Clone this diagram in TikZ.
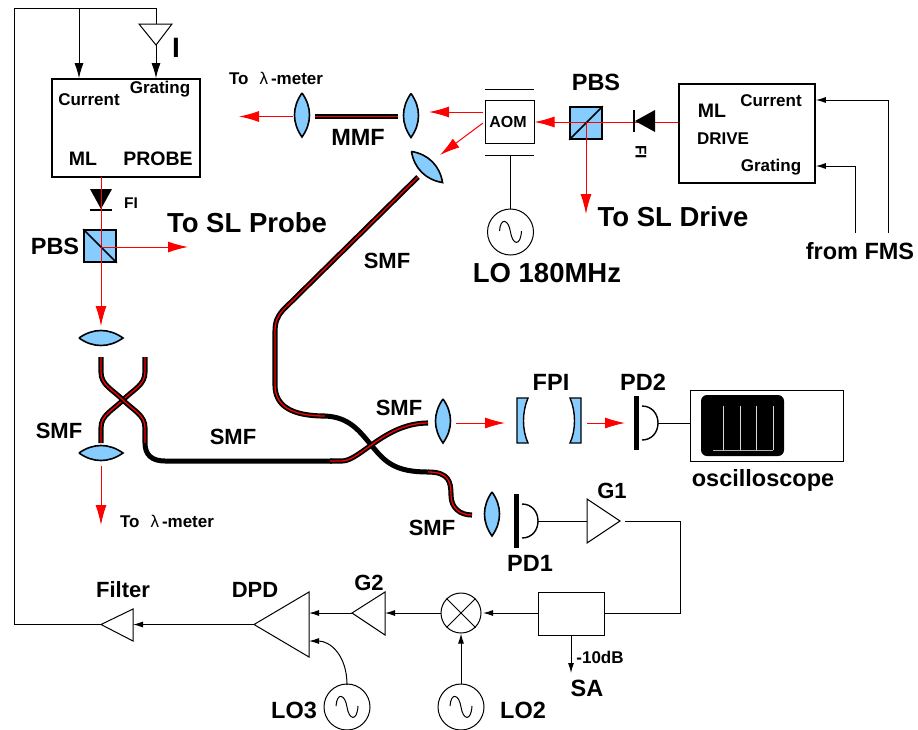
\documentclass[tikz,border=0pt]{standalone}
\usepackage{fontspec}
\setmainfont{Liberation Sans}
\usetikzlibrary{arrows.meta}
\definecolor{optblue}{RGB}{135,204,255}
\tikzset{
	lblhuge/.style={font=\bfseries\fontsize{27.5}{28}\selectfont},
	lblbig/.style={font=\bfseries\fontsize{23.5}{24}\selectfont},
	lblfibre/.style={font=\bfseries\fontsize{22}{22}\selectfont},
	lblmid/.style={font=\bfseries\fontsize{19.5}{20}\selectfont},
	lblsmall/.style={font=\bfseries\fontsize{17}{17}\selectfont},
	lbltiny/.style={font=\bfseries\fontsize{15.5}{16}\selectfont},
	box/.style={draw, line width=1.6pt, inner sep=0pt},
	thinbox/.style={draw, line width=1pt, inner sep=0pt},
	wire/.style={line width=1pt},
	wirearrow/.style={line width=1pt, -{Latex[length=15pt,width=9pt]}},
	minarrow/.style={line width=1pt, -{Latex[length=10pt,width=6pt]}},
	beam/.style={red, line width=1pt},
	beamarrow/.style={red, line width=1pt, -{Latex[length=20pt,width=11pt]}},
	fiber/.style={black, line width=1.9pt, double=red, double distance=1.3pt},
	blackfiber/.style={black, line width=5pt},
	osc/.style={circle, draw, line width=1pt, minimum size=46pt, inner sep=0pt},
	lens/.pic={\draw[fill=optblue, line width=1.6pt] (0,-22) .. controls (-10,-8) and (-10,8) .. (0,22) .. controls (10,8) and (10,-8) .. (0,-22);},
	sinewave/.pic={\draw[line width=1pt] (-11,-1) .. controls (-10,-15) and (-2,-13) .. (0,0) .. controls (2,13) and (10,15) .. (11,-1);},
	detector/.pic={
		\draw[line width=5pt] (0,-27) -- (0,27);
		\draw[line width=1.4pt] (6,-17) .. controls (16,-17) and (22,-9) .. (22,0) .. controls (22,9) and (16,17) .. (6,17);
	}
}
\begin{document}
\begin{tikzpicture}[x=1pt,y=-1pt]
	\useasboundingbox (0,0) rectangle (918,729);

	% laser boxes
	\node[box, minimum width=148pt, minimum height=98pt] (mlprobe) at (126,128) {};
	\node[box, minimum width=136pt, minimum height=99pt] (mldrive) at (747,133.5) {};
	\node[lblsmall] (curprobe) at (89,100) {Current};
	\node[lblsmall] (gratprobe) at (160,89) {Grating};
	\node[lblmid] (mlone) at (83,159) {ML};
	\node[lblmid] (probe) at (158,159) {PROBE};
	\node[lblmid] (mltwo) at (712,111) {ML};
	\node[lblsmall] (drive) at (723,139) {DRIVE};
	\node[lblsmall] (curdrive) at (771,101) {Current};
	\node[lblsmall] (gratdrive) at (771,167) {Grating};

	% feedback loop at the top
	\coordinate (filtertip) at (101,624.5);
	\coordinate (filterbase) at (133,624.5);
	\coordinate (corner) at (14,8);
	\coordinate (itop) at (156,24);
	\coordinate (itip) at (156,45);
	\draw[wire] (filtertip) -- (14,624.5) -- (corner) -- (156,8) -- (itop);
	\draw[wirearrow] (79,8) -- (mlprobe.north -| 79,8);
	\draw[wirearrow] (itip) -- (mlprobe.north -| itip);
	\draw[wire, fill=white] (139,24) -- (172,24) -- (itip) -- cycle;
	\node[font=\bfseries\fontsize{28}{28}\selectfont] (ilabel) at (176,48) {I};

	% probe arm
	\node[draw, fill=optblue, line width=1.6pt, minimum size=32pt, inner sep=0pt] (pbsone) at (100,246) {};
	\coordinate (lensone) at (101,338);
	\coordinate (lenstwo) at (101,453);
	\coordinate (pbsonec) at (101,247);
	\draw[beam] (mlprobe.south -| pbsonec) -- (pbsonec);
	\draw[line width=1.6pt] (pbsone.north west) -- (pbsone.south east);
	\draw[beamarrow] (pbsonec) -- (101,326);
	\draw[beamarrow] (pbsonec) -- (188,247);
	\fill (90,189) -- (112,189) -- (101,209) -- cycle;
	\draw[line width=1.6pt] (90,210) -- (112,210);
	\draw[beam] (101,177) -- (101,230);
	\node[lbltiny] (fione) at (131,203) {FI};
	\node[lblbig] (pbsonelbl) at (55,246) {PBS};
	\node[lblhuge] (toslprobe) at (247,223) {To SL Probe};

	\pic[rotate=90] at (lensone) {lens};
	\pic[rotate=90] at (lenstwo) {lens};
	\draw[beamarrow] (101,466) -- (101,525);
	\node[lblsmall] (lamone) at (167,521) {To\hspace{11pt}{\mdseries λ}\hspace{3pt}-meter};

	% fibres, black parts first
	\draw[blackfiber] (145,443) .. controls (145,455) and (152,461) .. (165,461) -- (332,461);
	\draw[fiber] (101,443) -- (101,428) .. controls (101,415) and (112,411) .. (123,400) .. controls (134,389) and (145,385) .. (145,372) -- (145,357);
	\draw[fiber] (101,357) -- (101,372) .. controls (101,385) and (112,389) .. (123,400) .. controls (134,411) and (145,415) .. (145,428) -- (145,443);
	\draw[fiber] (418,177) -- (283,310) .. controls (277,317) and (275,322) .. (275,332) -- (275,385) .. controls (275,405) and (290,416) .. (325,416);
	\draw[blackfiber] (325,416) .. controls (350,417) and (360,432) .. (372,446) .. controls (385,462) and (395,472) .. (428,472);
	\draw[fiber] (330,461) -- (342,461) .. controls (360,461) and (385,423) .. (428,423);
	\draw[fiber] (428,472) .. controls (449,472) and (451,482) .. (451,495) .. controls (451,508) and (460,515) .. (472,515);
	\draw[fiber, double distance=1.2pt] (315,116.5) -- (398,116.5);
	\node[lblfibre] (smfa) at (59,431) {SMF};
	\node[lblfibre] (smfb) at (233,437) {SMF};
	\node[lblfibre] (smfc) at (399,408) {SMF};
	\node[lblfibre] (smfd) at (432,528) {SMF};
	\node[lblfibre] (smfe) at (387,261) {SMF};
	\node[lblbig] (mmf) at (358,137) {MMF};

	% drive arm
	\node[thinbox, minimum width=49pt, minimum height=43pt] (aom) at (509.5,121.5) {};
	\node[font=\bfseries\fontsize{16}{16}\selectfont] (aomlbl) at (508,122) {AOM};
	\draw[line width=1pt] (485,89) -- (534,89);
	\draw[line width=1pt] (485,155) -- (534,155);
	\node[draw, fill=optblue, line width=1.6pt, minimum size=32pt, inner sep=0pt] (pbstwo) at (586,123) {};
	\coordinate (pbstwoc) at (586,122);
	\draw[beamarrow] (mldrive.west |- pbstwoc) -- (aom.east |- pbstwoc);
	\draw[line width=1.6pt] (pbstwo.south west) -- (pbstwo.north east);
	\draw[beamarrow] (pbstwoc) -- (586,214);
	\fill (655,110) -- (655,132) -- (635,121) -- cycle;
	\draw[line width=1.6pt] (634,110) -- (634,132);
	\node[lbltiny, rotate=-90] (fitwo) at (641,152) {FI};
	\node[lblbig] (pbstwolbl) at (596,82) {PBS};
	\node[lblhuge] (tosldrive) at (673,217) {To SL Drive};
	\coordinate (lensthree) at (302,115);
	\coordinate (lensfour) at (411,115.5);
	\coordinate (lensfive) at (427,167);
	\pic at (lensthree) {lens};
	\pic at (lensfour) {lens};
	\pic[rotate=45] at (lensfive) {lens};
	\draw[beamarrow] (483,112) -- (429,112);
	\draw[beamarrow] (483,123) -- (440,155);
	\draw[beamarrow] (293,116.5) -- (239,116.5);
	\node[lblsmall] (lamtwo) at (276,78) {To\hspace{11pt}{\mdseries λ}\hspace{3pt}-meter};

	\node[osc] (loaom) at (510.5,232) {};
	\pic at (loaom) {sinewave};
	\draw[wire] (510.5,155) -- (loaom);
	\node[lblhuge] (loaomlbl) at (547,273) {LO 180MHz};

	% inputs from the FMS
	\coordinate (fmsa) at (888,233);
	\coordinate (fmsb) at (855,233);
	\draw[minarrow] (fmsa) -- (888,100) -- (mldrive.east |- 888,100);
	\draw[minarrow] (fmsb) -- (855,166) -- (mldrive.east |- 855,166);
	\node[lblbig] (fromfms) at (860,251) {from FMS};

	% Fabry-Perot line
	\coordinate (lenssix) at (443,421);
	\pic at (lenssix) {lens};
	\draw[beamarrow] (456,423) -- (505,423);
	\draw[beamarrow] (587,423) -- (625,423);
	\draw[fill=optblue, line width=1.4pt] (517,398) -- (528,398) .. controls (522,412) and (522,430) .. (528,443) -- (517,443) -- cycle;
	\draw[fill=optblue, line width=1.4pt] (581,398) -- (570,398) .. controls (576,412) and (576,430) .. (570,443) -- (581,443) -- cycle;
	\node[lblbig] (fpi) at (551,382) {FPI};
	\coordinate (pdtwo) at (636,423);
	\pic at (pdtwo) {detector};
	\node[lblbig] (pdtwolbl) at (643,382) {PD2};
	\node[thinbox, minimum width=153pt, minimum height=71pt] (scope) at (766.5,425.5) {};
	\draw[wire] (658,423) -- (scope.west |- 658,423);
	\node[fill=black, rounded corners=6pt, minimum width=83pt, minimum height=61pt, inner sep=0pt] (screen) at (742.5,425.5) {};
	\draw[white!70!black, line width=1pt] (713,450) -- (773,450);
	\foreach \xpos in {723,740,756,773}
		\draw[white!85!black, line width=1pt] (\xpos,450) -- (\xpos,406);
	\node[lblbig] (scopelbl) at (763,480) {oscilloscope};

	% detection chain
	\coordinate (lensseven) at (492,514);
	\pic at (lensseven) {lens};
	\coordinate (pdone) at (516,521);
	\pic at (pdone) {detector};
	\node[lblbig] (pdonelbl) at (530,563) {PD1};
	\coordinate (goneb) at (587,521);
	\coordinate (gonet) at (620,521);
	\draw[wire] (538,521) -- (goneb);
	\draw[wire] (587,499) -- (587,543) -- (gonet) -- cycle;
	\node[lblfibre] (gonelbl) at (612,491) {G1};
	\node[thinbox, minimum width=66pt, minimum height=43pt] (split) at (571,613.5) {};
	\draw[wire] (625,521) -- (680,521) -- (680,613) -- (split.east |- 680,613);
	\draw[minarrow] (split.south) -- (571,673);
	\node[lblsmall] (tendb) at (600,657) {-10dB};
	\node[lblbig] (salbl) at (587,688) {SA};

	\node[circle, draw, line width=1pt, minimum size=40pt, inner sep=0pt] (mixer) at (461,613) {};
	\draw[wire] (mixer.north west) -- (mixer.south east);
	\draw[wire] (mixer.north east) -- (mixer.south west);
	\draw[minarrow] (split.west |- mixer) -- (483,613);
	\node[osc] (lotwo) at (461,707) {};
	\pic at (lotwo) {sinewave};
	\draw[minarrow] (lotwo) -- (mixer);
	\node[lblbig] (lotwolbl) at (523,710) {LO2};

	\coordinate (gtwob) at (385,613);
	\coordinate (gtwot) at (352,613);
	\draw[wire] (385,592) -- (385,635) -- (gtwot) -- cycle;
	\draw[minarrow] (mixer) -- (gtwob);
	\node[lblfibre] (gtwolbl) at (369,583) {G2};

	\coordinate (dpdb) at (309,613);
	\coordinate (dpdt) at (254,624.5);
	\draw[wire] (309,592) -- (309,657) -- (dpdt) -- cycle;
	\draw[minarrow] (gtwot) -- (dpdb);
	\node[lblfibre] (dpdlbl) at (255,590) {DPD};

	\node[osc] (lothree) at (347,707) {};
	\pic at (lothree) {sinewave};
	\draw[minarrow] (lothree) -- (347,685) .. controls (347,655) and (330,641) .. (309,641);
	\node[lblbig] (lothreelbl) at (294,710) {LO3};

	\draw[wire] (133,609) -- (133,641) -- (filtertip) -- cycle;
	\draw[minarrow] (dpdt) -- (filterbase);
	\node[lblfibre] (filterlbl) at (123,590) {Filter};
\end{tikzpicture}
\end{document}
